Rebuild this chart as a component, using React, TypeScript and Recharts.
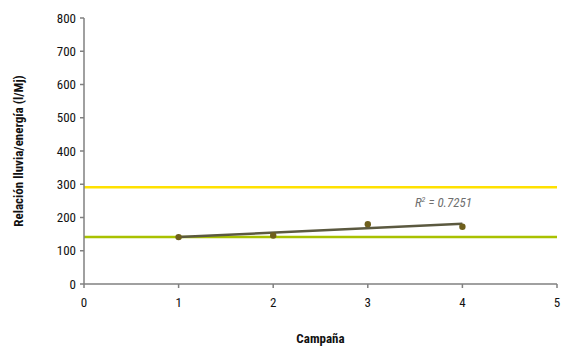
import {
  ComposedChart,
  Scatter,
  Line,
  XAxis,
  YAxis,
  ReferenceLine,
  ReferenceDot,
} from "recharts";

const campaigns = [1, 2, 3, 4];
const ratios = [141, 146, 180, 172];
const trendX = [1, 4];
const trendY = [141, 181];
const xTicks = [0, 1, 2, 3, 4, 5];
const yTicks = [0, 100, 200, 300, 400, 500, 600, 700, 800];
const upperLimit = 291;
const lowerLimit = 141;
const r2Text = "0.7251";

const FONT = "'Liberation Sans Narrow', 'Roboto Condensed', 'DejaVu Sans Condensed', sans-serif";
const AXIS = "#808080";

const points = campaigns.map((c, i) => ({ x: c, y: ratios[i] }));
const trend = trendX.map((x, i) => ({ x, y: trendY[i] }));

function R2Label(props: any) {
  const { viewBox } = props;
  const x = viewBox.x + viewBox.width / 2;
  const y = viewBox.y + viewBox.height / 2;
  return (
    <text
      x={x}
      y={y}
      textAnchor="end"
      fill="#6f6f6f"
      fontSize={13}
      fontStyle="italic"
      fontFamily={FONT}
    >
      R
      <tspan fontSize={8} dy={-5}>2</tspan>
      <tspan dy={5}> = {r2Text}</tspan>
    </text>
  );
}

export default function App() {
  const axisProps = {
    stroke: AXIS,
    strokeWidth: 1.5,
    tick: { fill: "#111", fontSize: 13, fontFamily: FONT },
    tickSize: 4,
  };

  return (
    <div style={{ position: "absolute", left: 0, top: 0, background: "#fff" }}>
      <ComposedChart
        width={564}
        height={351}
        margin={{ top: 18, right: 7, bottom: 0, left: 0 }}
      >
        <XAxis
          type="number"
          dataKey="x"
          domain={[0, 5]}
          ticks={xTicks}
          interval={0}
          height={67}
          {...axisProps}
          tickMargin={10}
          tickLine={{ stroke: AXIS }}
          label={{
            value: "Campaña",
            position: "insideBottom",
            offset: 8,
            style: { fill: "#111", fontSize: 13, fontWeight: 700, fontFamily: FONT },
          }}
        />
        <YAxis
          type="number"
          dataKey="y"
          domain={[0, 800]}
          ticks={yTicks}
          interval={0}
          width={84}
          {...axisProps}
          tickMargin={4}
          tickLine={{ stroke: AXIS }}
          label={{
            value: "Relación lluvia/energía (l/Mj)",
            angle: -90,
            position: "insideLeft",
            offset: 18,
            style: {
              textAnchor: "middle",
              fill: "#111",
              fontSize: 13,
              fontWeight: 700,
              fontFamily: FONT,
            },
          }}
        />
        <ReferenceLine y={upperLimit} stroke="#ffe100" strokeWidth={2.5} />
        <ReferenceLine y={lowerLimit} stroke="#a9c100" strokeWidth={2.5} />
        <Line
          data={trend}
          dataKey="y"
          stroke="#5b5940"
          strokeWidth={2.5}
          dot={false}
          isAnimationActive={false}
        />
        <Scatter
          data={points}
          dataKey="y"
          fill="#6e5f1c"
          shape={(p: any) => <circle cx={p.cx} cy={p.cy} r={3.2} fill="#6e5f1c" />}
          isAnimationActive={false}
        />
        <ReferenceDot x={4.1} y={233} r={0} fill="none" stroke="none" label={<R2Label />} />
      </ComposedChart>
    </div>
  );
}
